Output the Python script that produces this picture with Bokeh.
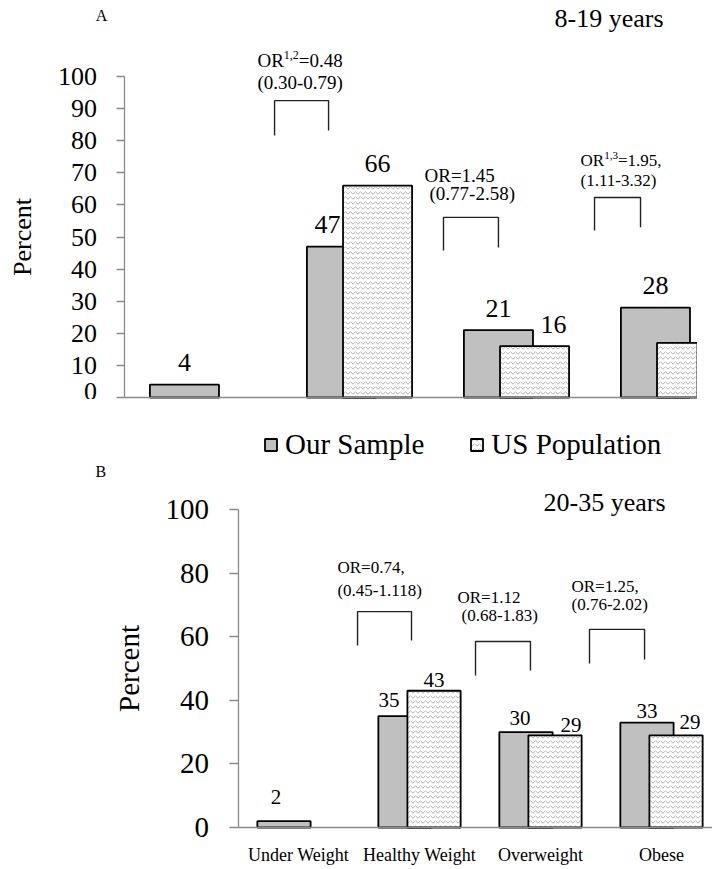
from bokeh.plotting import figure
from bokeh.models import (Range1d, SingleIntervalTicker, FixedTicker, Label, Legend,
                          LegendItem, ColumnDataSource)
from bokeh.layouts import column
from bokeh.embed import file_html
from bokeh.resources import INLINE
from bokeh.core.properties import value

NaN = float("nan")

# ---------------- data ----------------
categories = ["Under Weight", "Healthy Weight", "Overweight", "Obese"]
series_names = ["Our Sample", "US Population"]

a_title = "8-19 years"
a_sample = [4, 47, 21, 28]
a_us = [NaN, 66, 16, 17]

b_title = "20-35 years"
b_sample = [2, 35, 30, 33]
b_us = [NaN, 43, 29, 29]

a_or = [("OR", "1,2", "=0.48"), ("OR=1.45", "", ""), ("OR", "1,3", "=1.95,")]
a_ci = ["(0.30-0.79)", "(0.77-2.58)", "(1.11-3.32)"]
b_or = [("OR=0.74,", "", ""), ("OR=1.12", "", ""), ("OR=1.25,", "", "")]
b_ci = ["(0.45-1.118)", "(0.68-1.83)", "(0.76-2.02)"]

# ---------------- style ----------------
FONT = "Liberation Serif"
GREY_AX = "#8a8a8a"
FILL_S = "#c0c0c0"
HATCH = "#9c9c9c"
W_CH = {"O": 0.722, "R": 0.667}


def text_w(s, size):
    return sum(W_CH.get(c, 0.5) for c in s) * size


def make_fig(width, height, cat0_px, unit_x, zero_px, unit_y):
    # frame covers the whole canvas; ranges chosen so that category 0 sits at cat0_px
    xr = (-cat0_px / unit_x, (width - cat0_px) / unit_x)
    yr = (-(height - zero_px) / unit_y, zero_px / unit_y)
    p = figure(width=width, height=height, x_range=Range1d(*xr), y_range=Range1d(*yr),
               output_backend="svg", toolbar_location=None,
               min_border_left=0, min_border_right=0, min_border_top=0, min_border_bottom=0)
    p.grid.visible = False
    p.outline_line_color = None
    p.background_fill_color = "white"
    p.border_fill_color = "white"
    return p, xr


def style_yaxis(ax, interval, size, tick_out, standoff, lab_standoff):
    ax.fixed_location = -0.5
    ax.bounds = (0, 100)
    ax.ticker = SingleIntervalTicker(interval=interval)
    ax.minor_tick_line_color = None
    ax.major_tick_in = 0
    ax.major_tick_out = tick_out
    ax.axis_line_color = GREY_AX
    ax.axis_line_width = 1.3
    ax.major_tick_line_color = GREY_AX
    ax.major_tick_line_width = 1.3
    ax.major_label_text_font = FONT
    ax.major_label_text_font_size = f"{size}px"
    ax.major_label_text_color = "black"
    ax.major_label_standoff = standoff
    ax.axis_label = "Percent"
    ax.axis_label_text_font = FONT
    ax.axis_label_text_font_size = f"{size}px"
    ax.axis_label_text_font_style = "normal"
    ax.axis_label_text_color = "black"
    ax.axis_label_standoff = lab_standoff


def style_xaxis(ax, xr, show_labels):
    ax.fixed_location = 0
    ax.bounds = (-0.5, xr[1])
    ax.ticker = FixedTicker(ticks=list(range(len(categories))))
    ax.major_tick_in = 0
    ax.major_tick_out = 0
    ax.minor_tick_line_color = None
    ax.major_tick_line_color = None
    ax.axis_line_color = GREY_AX
    ax.axis_line_width = 1.3
    if show_labels:
        ax.major_label_overrides = {i: c for i, c in enumerate(categories)}
        ax.major_label_text_font = FONT
        ax.major_label_text_font_size = "18px"
        ax.major_label_text_color = "black"
        ax.major_label_standoff = 17
    else:
        ax.major_label_text_font_size = "0px"
        ax.major_label_text_alpha = 0


def bars(p, sample, us, half, width):
    xs = list(range(len(categories)))
    s_src = ColumnDataSource(dict(x=[x - half for x in xs], top=sample))
    ux = [x + half for x, v in zip(xs, us) if v == v]
    uv = [v for v in us if v == v]
    u_src = ColumnDataSource(dict(x=ux, top=uv))
    r1 = p.vbar(x="x", top="top", bottom=0, width=width, source=s_src,
                fill_color=FILL_S, line_color="black", line_width=1.8)
    r2 = p.vbar(x="x", top="top", bottom=0, width=width, source=u_src,
                fill_color="white", line_color="black", line_width=1.8,
                hatch_pattern="horizontal_wave", hatch_color=HATCH,
                hatch_scale=5, hatch_weight=0.8)
    return r1, r2


def data_labels(p, xs, vals, dxs, dys, size):
    keep = [i for i, v in enumerate(vals) if v == v]
    src = ColumnDataSource(dict(
        x=[xs[i] for i in keep], y=[vals[i] for i in keep],
        t=[str(int(vals[i])) for i in keep],
        dx=[dxs[i] for i in keep], dy=[-dys[i] for i in keep]))
    p.text(x="x", y="y", text="t", x_offset="dx", y_offset="dy", source=src,
           text_font=value(FONT), text_font_size=f"{size}px", text_align="center",
           text_baseline="middle", text_color="black")


def or_label(p, x, y, parts, size, sup_size):
    main, sup, rest = parts
    p.add_layout(Label(x=x, y=y, text=main, text_font=FONT, text_font_size=f"{size}px",
                       text_baseline="middle", text_align="left", text_color="black"))
    if sup:
        w = text_w(main, size)
        p.add_layout(Label(x=x, y=y, x_offset=w, y_offset=size * 0.3, text=sup, text_font=FONT,
                           text_font_size=f"{sup_size}px", text_baseline="middle",
                           text_align="left", text_color="black"))
        w2 = w + text_w(sup.replace(",", ""), sup_size) + 0.25 * sup_size * sup.count(",")
        p.add_layout(Label(x=x, y=y, x_offset=w2, text=rest, text_font=FONT,
                           text_font_size=f"{size}px", text_baseline="middle",
                           text_align="left", text_color="black"))


def plain_label(p, x, y, text, size):
    p.add_layout(Label(x=x, y=y, text=text, text_font=FONT, text_font_size=f"{size}px",
                       text_baseline="middle", text_align="left", text_color="black"))


def brackets(p, specs):
    xs, ys = [], []
    for xl, xr, yt, yl, yr in specs:
        xs.append([xl, xl, xr, xr])
        ys.append([yl, yt, yt, yr])
    p.multi_line(xs, ys, line_color="#222222", line_width=1.4)


idx = list(range(len(categories)))

# ---------------- panel A ----------------
HA = 0.115
pa, xra = make_fig(697, 399, 202, 157, 397, 3.21)
style_yaxis(pa.yaxis[0], 10, 26, 8, 19, 19)
style_xaxis(pa.xaxis[0], xra, False)
bars(pa, a_sample, a_us, HA, 0.44)
data_labels(pa, [i - HA for i in idx], a_sample, [0, -14, 0, 0], [22, 22, 22, 22], 26)
data_labels(pa, [i + HA for i in idx], a_us, [0, 0, 19, 19], [22, 22, 22, 22], 26)
brackets(pa, [(0.459, 0.803, 92.5, 81.6, 83.2),
              (1.535, 1.885, 56.1, 45.8, 46.7),
              (2.497, 2.790, 62.3, 52.0, 53.0)])
or_label(pa, 0.350, 105.0, a_or[0], 19, 12)
plain_label(pa, 0.350, 98.1, a_ci[0], 19)
or_label(pa, 1.414, 69.2, a_or[1], 19, 12)
plain_label(pa, 1.446, 63.6, a_ci[1], 19)
or_label(pa, 2.408, 73.8, a_or[2], 17, 11)
plain_label(pa, 2.408, 67.6, a_ci[2], 17)
plain_label(pa, -0.68, 119.0, "A", 16)
plain_label(pa, 2.242, 118.1, a_title, 26)

# ---------------- panel B ----------------
HB = 0.12
pb, xrb = make_fig(712, 470, 298, 121, 428, 3.18)
style_yaxis(pb.yaxis[0], 20, 29, 9, 20, 18)
style_xaxis(pb.xaxis[0], xrb, True)
rs, ru = bars(pb, b_sample, b_us, HB, 0.44)
data_labels(pb, [i - HB for i in idx], b_sample, [-8, -16, -6, 0], [24, 16, 14, 12], 21)
data_labels(pb, [i + HB for i in idx], b_us, [0, 0, 16, 14], [0, 11, 10, 13], 21)
brackets(pb, [(0.488, 0.934, 67.9, 57.2, 58.8),
              (1.463, 1.917, 58.5, 47.8, 49.4),
              (2.405, 2.860, 62.3, 51.6, 52.8)])
or_label(pb, 0.322, 81.8, b_or[0], 17, 11)
plain_label(pb, 0.322, 74.5, b_ci[0], 17)
or_label(pb, 1.314, 72.3, b_or[1], 17, 11)
plain_label(pb, 1.347, 66.7, b_ci[1], 17)
or_label(pb, 2.256, 75.8, b_or[2], 17, 11)
plain_label(pb, 2.256, 70.1, b_ci[2], 17)
plain_label(pb, -1.678, 111.9, "B", 16)
plain_label(pb, 2.025, 102.2, b_title, 26)

legend = Legend(items=[LegendItem(label=series_names[0], renderers=[rs]),
                       LegendItem(label=series_names[1], renderers=[ru])],
                location=(263, 408), orientation="horizontal", padding=0, margin=0,
                spacing=45, label_standoff=7, glyph_width=15, glyph_height=15,
                label_height=30, border_line_color=None, background_fill_alpha=0,
                label_text_font=FONT, label_text_font_size="29px",
                label_text_color="black")
pb.add_layout(legend)

layout = column(pa, pb, spacing=0)
open("out.html", "w").write(file_html(layout, INLINE))
